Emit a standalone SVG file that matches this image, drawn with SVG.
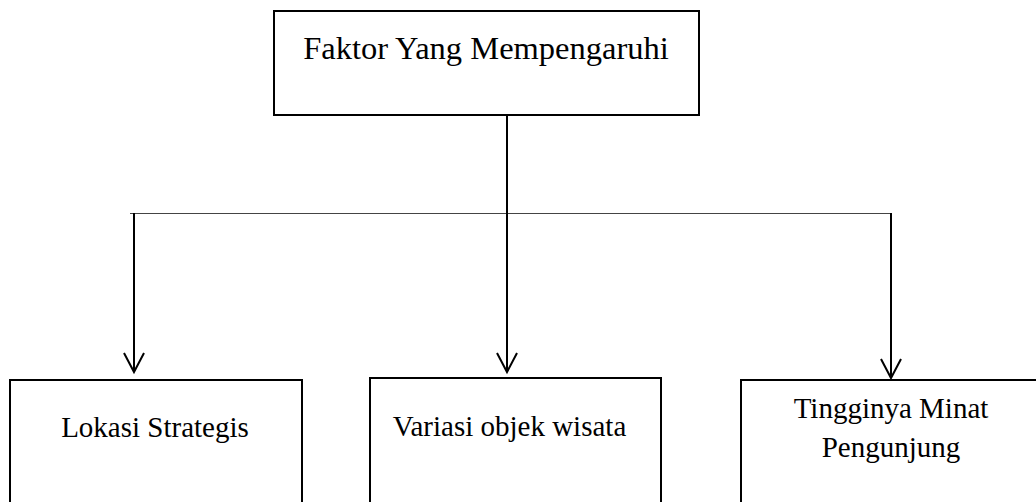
<svg xmlns="http://www.w3.org/2000/svg" width="1036" height="502" viewBox="0 0 1036 502">
<style>
.box{fill:#fff;stroke:#000;stroke-width:2}
.t{font-family:"Liberation Serif","Times New Roman",serif;font-size:29px;fill:#000;text-anchor:middle}
.v{stroke:#000;stroke-width:2;fill:none}
.h{stroke:#444;stroke-width:1.2;fill:none}
.ah{stroke:#000;stroke-width:2;fill:none;stroke-linejoin:miter}
</style>
<rect width="1036" height="502" fill="#fff"/>
<g id="connectors">
<line class="h" x1="130" y1="213.5" x2="892" y2="213.5"/>
<line class="v" x1="507" y1="115" x2="507" y2="371"/>
<polyline class="ah" points="497,353 507,372 517,353"/>
<line class="v" x1="134" y1="213" x2="134" y2="371"/>
<polyline class="ah" points="124,353 134,372 144,353"/>
<line class="v" x1="891" y1="213" x2="891" y2="377"/>
<polyline class="ah" points="881,359 891,378 901,359"/>
</g>
<g id="node-top">
<rect class="box" x="274" y="11" width="425" height="104"/>
<text class="t" x="486" y="58.5" style="font-size:32.5px">Faktor Yang Mempengaruhi</text>
</g>
<g id="node-lokasi">
<rect class="box" x="10" y="380" width="292" height="140"/>
<text class="t" x="155" y="437">Lokasi Strategis</text>
</g>
<g id="node-variasi">
<rect class="box" x="370" y="378" width="291" height="140"/>
<text class="t" x="509.5" y="436">Variasi objek wisata</text>
</g>
<g id="node-minat">
<rect class="box" x="741" y="380" width="310" height="140"/>
<text class="t" x="891" y="418">Tingginya Minat</text>
<text class="t" x="891" y="457">Pengunjung</text>
</g>
</svg>
